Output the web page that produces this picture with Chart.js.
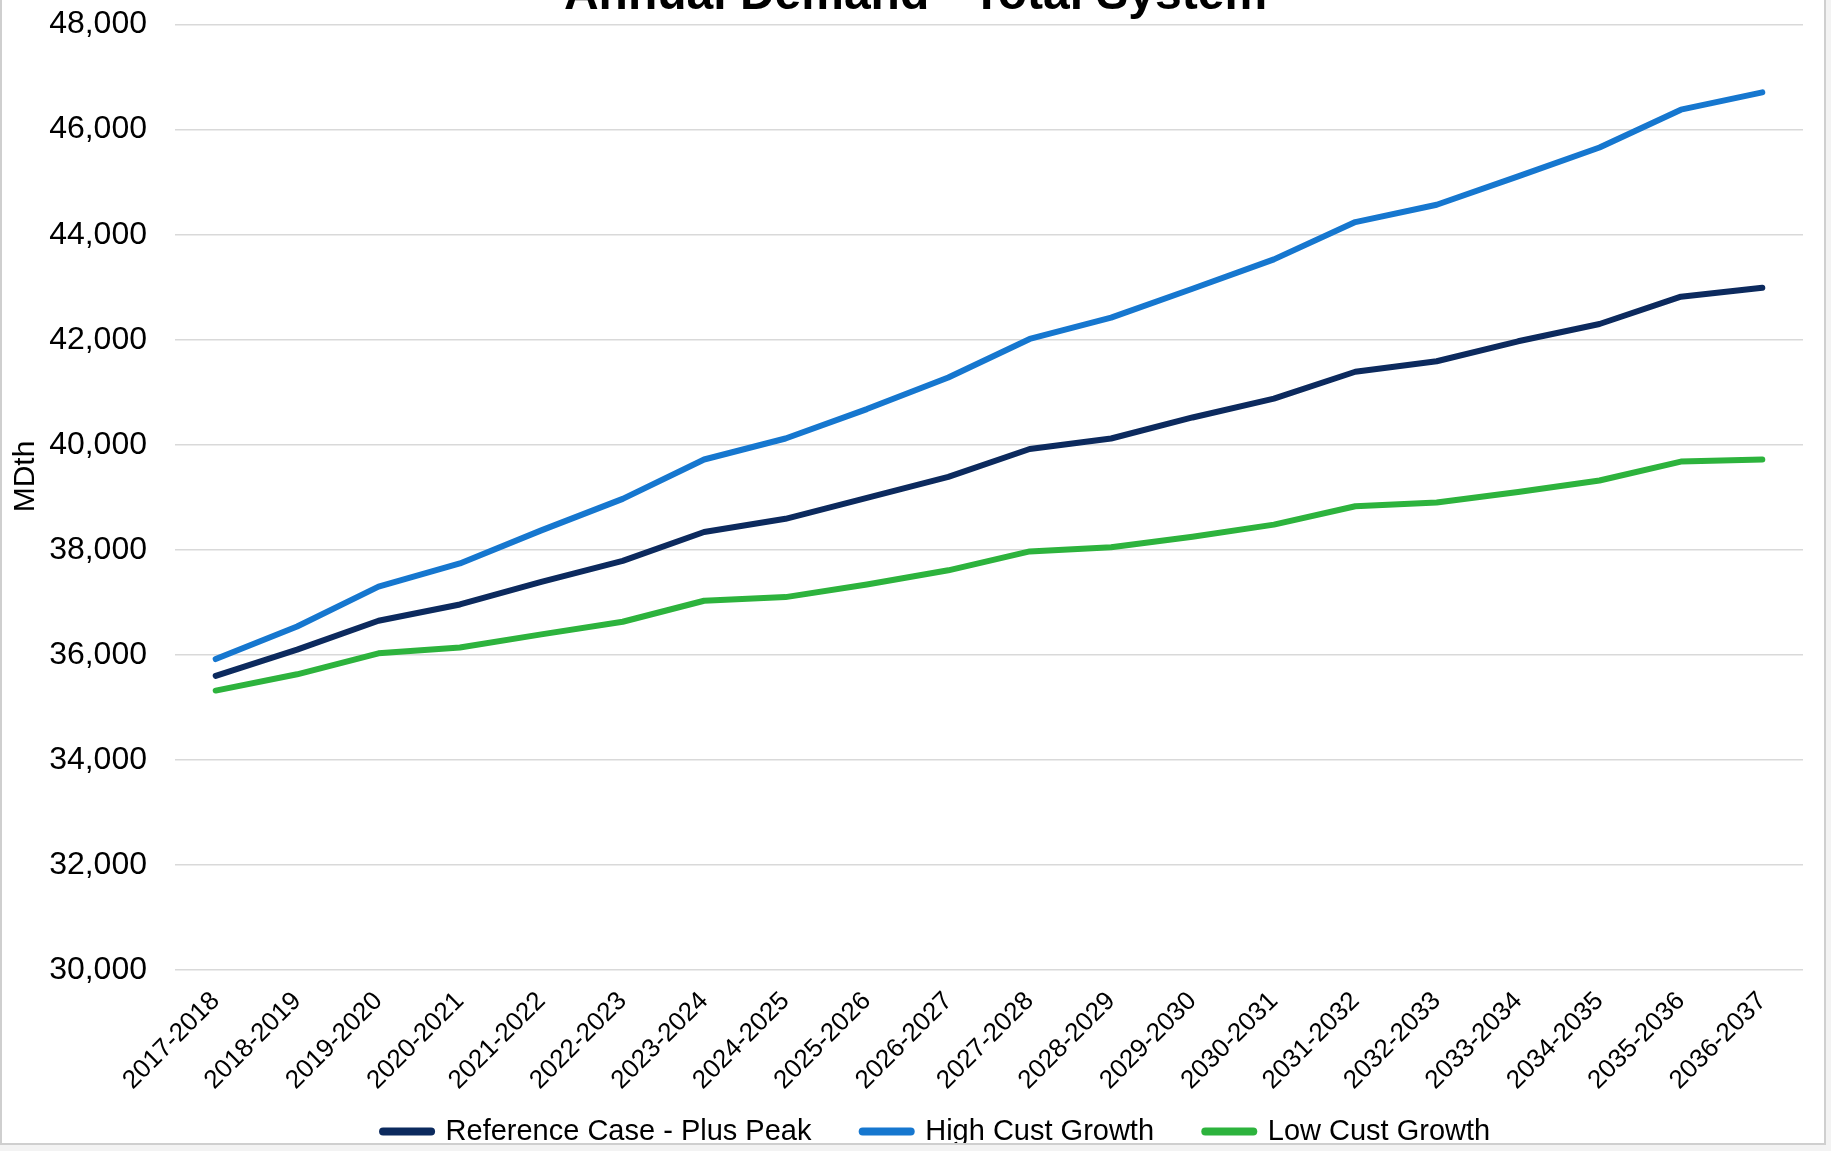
<!DOCTYPE html>
<html>
<head>
<meta charset="utf-8">
<script src="https://cdn.jsdelivr.net/npm/chart.js@4.4.0/dist/chart.umd.min.js"></script>
<style>
  html, body { margin: 0; padding: 0; background: #f3f3f3; overflow: hidden; }
  #frame {
    position: absolute; left: 0; top: 0; width: 1826px; height: 1145px;
    box-sizing: border-box; border: 2px solid #cfcfcf; border-top: none;
    overflow: hidden; background: #fff;
  }
  #wrap { position: absolute; left: -2px; top: -60px; width: 1831px; height: 1216px; }
</style>
</head>
<body>
<div id="frame">
  <div id="wrap"><canvas id="demandChart"></canvas></div>
</div>
<script>
const years = [
  "2017-2018", "2018-2019", "2019-2020", "2020-2021", "2021-2022",
  "2022-2023", "2023-2024", "2024-2025", "2025-2026", "2026-2027",
  "2027-2028", "2028-2029", "2029-2030", "2030-2031", "2031-2032",
  "2032-2033", "2033-2034", "2034-2035", "2035-2036", "2036-2037"
];

// MDth
const referenceCase = [
  35600, 36100, 36650, 36960, 37390, 37790, 38340, 38590, 38990, 39390,
  39920, 40120, 40520, 40880, 41390, 41590, 41970, 42300, 42820, 42990
];
const highGrowth = [
  35920, 36540, 37300, 37740, 38370, 38970, 39720, 40120, 40680, 41280,
  42015, 42420, 42970, 43530, 44240, 44570, 45110, 45660, 46380, 46710
];
const lowGrowth = [
  35320, 35630, 36030, 36140, 36390, 36630, 37030, 37100, 37340, 37610,
  37970, 38050, 38250, 38480, 38830, 38900, 39100, 39320, 39680, 39720
];

const seriesNames = ["Reference Case - Plus Peak", "High Cust Growth", "Low Cust Growth"];
const seriesColors = ["#0c2a5e", "#1677cf", "#2db33d"];

function makeLine(label, values, color) {
  return {
    label: label,
    data: values,
    borderColor: color,
    backgroundColor: color,
    borderWidth: 6,
    borderCapStyle: "round",
    borderJoinStyle: "round",
    pointRadius: 0,
    pointHoverRadius: 0,
    pointStyle: "line",
    tension: 0,
    fill: false,
  };
}

const font = "'Liberation Sans', Arial, sans-serif";
const gap = "\u00a0".repeat(4);
const tailGap = "\u00a0".repeat(13); // pushes the centred legend row a bit to the right

const config = {
  type: "line",
  data: {
    labels: years,
    datasets: [
      makeLine(seriesNames[0], referenceCase, seriesColors[0]),
      makeLine(seriesNames[1], highGrowth, seriesColors[1]),
      makeLine(seriesNames[2], lowGrowth, seriesColors[2]),
    ],
  },
  options: {
    responsive: true,
    maintainAspectRatio: false,
    animation: false,
    layout: { padding: 0 },
    plugins: {
      title: {
        display: true,
        text: "Annual Demand - Total System",
        color: "#000",
        font: { family: font, size: 48, weight: "bold" },
        padding: { top: 27, bottom: 0 },
      },
      legend: {
        display: true,
        position: "bottom",
        fullSize: false,
        labels: {
          usePointStyle: true,
          pointStyleWidth: 48,
          color: "#000",
          font: { family: font, size: 29 },
          padding: 19,
          generateLabels: (chart) => {
            const items = Chart.defaults.plugins.legend.labels.generateLabels(chart);
            items.forEach((item, i) => {
              item.lineWidth = 8;
              item.lineCap = "round";
              item.text = item.text + (i < items.length - 1 ? gap : tailGap);
            });
            return items;
          },
        },
      },
      tooltip: { enabled: false },
    },
    scales: {
      x: {
        offset: true,
        grid: { display: false, drawTicks: false },
        border: { display: false },
        ticks: {
          color: "#000",
          font: { family: font, size: 26 },
          minRotation: 45,
          maxRotation: 45,
          padding: 16,
          autoSkip: false,
        },
        afterFit: (scale) => {
          scale.height = 128;
        },
      },
      y: {
        min: 30000,
        max: 48000,
        grid: { color: "#d9d9d9", lineWidth: 1.5, drawTicks: false },
        border: { display: false },
        title: {
          display: true,
          text: "\u00a0\u00a0\u00a0\u00a0\u00a0MDth",
          color: "#000",
          font: { family: font, size: 30 },
          padding: { top: 8, bottom: 0 },
        },
        ticks: {
          stepSize: 2000,
          color: "#000",
          font: { family: font, size: 32 },
          padding: 28,
          callback: (v) => v.toLocaleString("en-US"),
        },
        afterFit: (scale) => {
          scale.width = 175;
        },
      },
      // empty strip on the right so the title stays centred on the whole width
      spacer: {
        position: "right",
        display: true,
        grid: { display: false, drawTicks: false },
        border: { display: false },
        ticks: { display: false },
        afterFit: (scale) => {
          scale.width = 28;
        },
      },
    },
  },
};

const ctx = document.getElementById("demandChart");
const demandChart = new Chart(ctx, config);
</script>
</body>
</html>
